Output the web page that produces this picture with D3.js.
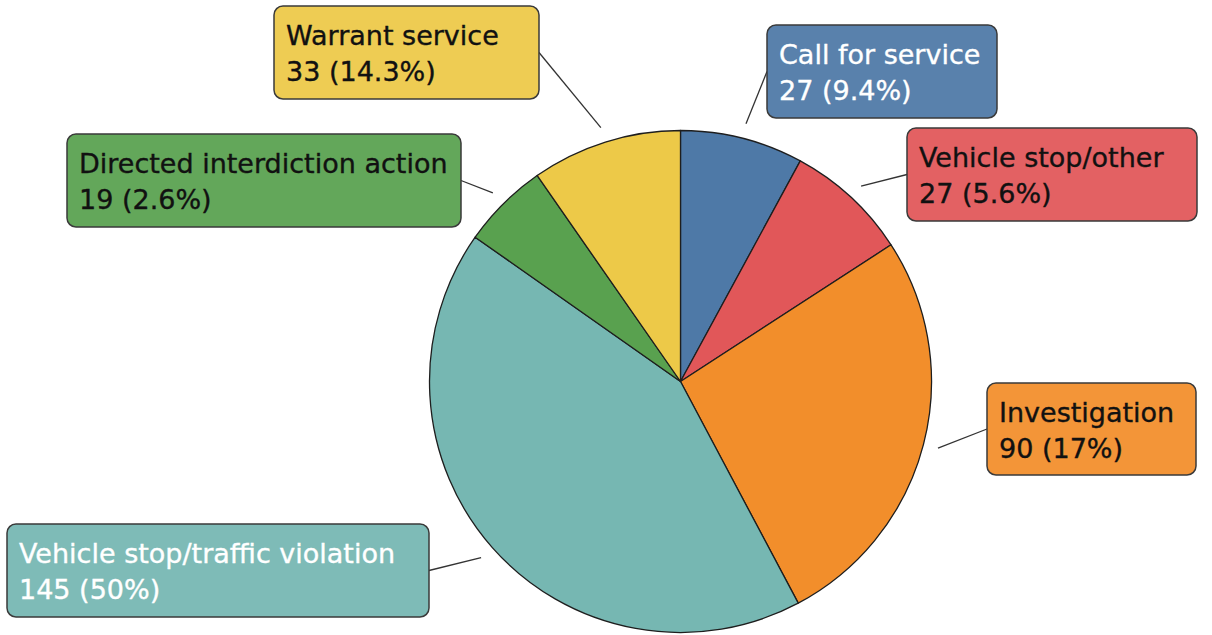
<!DOCTYPE html>
<html>
<head>
<meta charset="utf-8">
<script src="https://cdn.jsdelivr.net/npm/d3@7"></script>
<style>
  html, body { margin: 0; padding: 0; background: #ffffff; }
  svg { display: block; }
  text { font-family: "DejaVu Sans", sans-serif; font-size: 27px; }
</style>
</head>
<body>
<svg id="chart" width="1212" height="635"></svg>
<script>
// ---- data ----
const categories = ["Call for service", "Vehicle stop/other", "Investigation",
  "Vehicle stop/traffic violation", "Directed interdiction action", "Warrant service"];
const counts = [27, 27, 90, 145, 19, 33];
const percentLabels = ["9.4%", "5.6%", "17%", "50%", "2.6%", "14.3%"];
const colors = ["#4e79a7", "#e15759", "#f28e2b", "#76b7b2", "#59a14f", "#edc948"];
const textColors = ["#ffffff", "#111111", "#111111", "#ffffff", "#111111", "#111111"];

// ---- layout (label boxes: x, y, width, height) ----
const boxes = [
  [767, 25, 230, 93],
  [907, 128, 290, 93],
  [987, 383, 209, 92],
  [7, 524, 422, 93],
  [67, 134, 394, 93],
  [274, 6, 265, 93]
];
const cx = 680.5, cy = 381.5, radius = 251, leaderR = 266;

const svg = d3.select("#chart");
const data = categories.map((c, i) => ({ name: c, value: counts[i], pct: percentLabels[i], i }));

const pie = d3.pie().value(d => d.value).sort(null);
const arcs = pie(data);
const arc = d3.arc().innerRadius(0).outerRadius(radius);

const g = svg.append("g").attr("transform", `translate(${cx},${cy})`);
g.selectAll("path.slice")
  .data(arcs)
  .join("path")
  .attr("class", "slice")
  .attr("d", arc)
  .attr("fill", d => colors[d.data.i])
  .attr("stroke", "#1e1e1e")
  .attr("stroke-width", 1.3)
  .attr("stroke-linejoin", "round");

// leader lines
const leaderArc = d3.arc().innerRadius(leaderR).outerRadius(leaderR);
svg.selectAll("line.leader")
  .data(arcs)
  .join("line")
  .attr("class", "leader")
  .attr("x1", d => {
    const b = boxes[d.data.i];
    const [px] = leaderArc.centroid(d);
    return px + cx < b[0] ? b[0] : b[0] + b[2];
  })
  .attr("y1", d => boxes[d.data.i][1] + boxes[d.data.i][3] / 2)
  .attr("x2", d => leaderArc.centroid(d)[0] + cx)
  .attr("y2", d => leaderArc.centroid(d)[1] + cy)
  .attr("stroke", "#333")
  .attr("stroke-width", 1.3);

// label boxes
const lab = svg.selectAll("g.label")
  .data(arcs)
  .join("g")
  .attr("class", "label")
  .attr("transform", d => `translate(${boxes[d.data.i][0]},${boxes[d.data.i][1]})`);

lab.append("rect")
  .attr("width", d => boxes[d.data.i][2])
  .attr("height", d => boxes[d.data.i][3])
  .attr("rx", 9).attr("ry", 9)
  .attr("fill", d => d3.interpolateRgb(colors[d.data.i], "#ffffff")(0.06))
  .attr("stroke", "#3a3a3a")
  .attr("stroke-width", 1.5);

lab.append("text")
  .attr("x", 12).attr("y", 39)
  .attr("fill", d => textColors[d.data.i])
  .attr("stroke", d => textColors[d.data.i])
  .attr("stroke-width", 0.35)
  .text(d => d.data.name);

lab.append("text")
  .attr("x", 12).attr("y", 75)
  .attr("fill", d => textColors[d.data.i])
  .attr("stroke", d => textColors[d.data.i])
  .attr("stroke-width", 0.35)
  .text(d => `${d.data.value} (${d.data.pct})`);
</script>
</body>
</html>
